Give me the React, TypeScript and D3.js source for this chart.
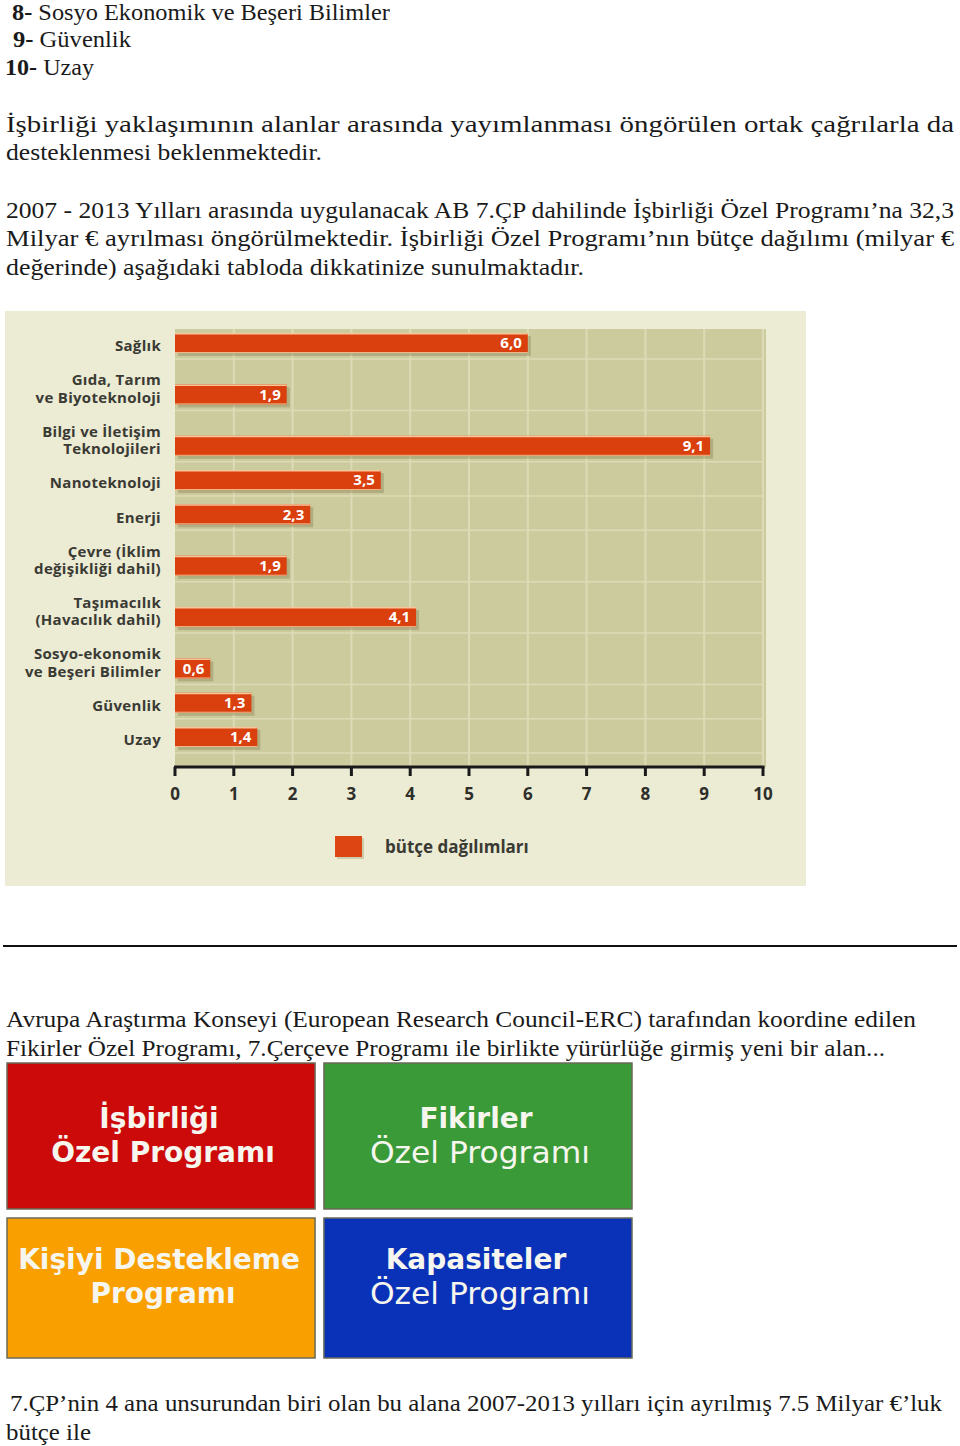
import React from "react";
import * as d3 from "d3";

// ---- chart data ----
const categories: string[][] = [
  ["Sağlık"],
  ["Gıda, Tarım", "ve Biyoteknoloji"],
  ["Bilgi ve İletişim", "Teknolojileri"],
  ["Nanoteknoloji"],
  ["Enerji"],
  ["Çevre (İklim", "değişikliği dahil)"],
  ["Taşımacılık", "(Havacılık dahil)"],
  ["Sosyo-ekonomik", "ve Beşeri Bilimler"],
  ["Güvenlik"],
  ["Uzay"],
];
const budgetValues: number[] = [6.0, 1.9, 9.1, 3.5, 2.3, 1.9, 4.1, 0.6, 1.3, 1.4];
const tickValues: number[] = [0, 1, 2, 3, 4, 5, 6, 7, 8, 9, 10];
const legendLabel = "bütçe dağılımları";

// ---- document text ----
const listLines = [
  { num: "8-", text: " Sosyo Ekonomik ve Beşeri Bilimler" },
  { num: "9-", text: " Güvenlik" },
  { num: "10-", text: " Uzay" },
];
const para1 = [
  "İşbirliği yaklaşımının alanlar arasında yayımlanması öngörülen ortak çağrılarla da",
  "desteklenmesi beklenmektedir.",
];
const para2 = [
  "2007 - 2013 Yılları arasında uygulanacak AB 7.ÇP dahilinde İşbirliği Özel Programı’na 32,3",
  "Milyar € ayrılması öngörülmektedir. İşbirliği Özel Programı’nın bütçe dağılımı (milyar €",
  "değerinde) aşağıdaki tabloda dikkatinize sunulmaktadır.",
];
const para3 = [
  "Avrupa Araştırma Konseyi (European Research Council-ERC) tarafından koordine edilen",
  "Fikirler Özel Programı, 7.Çerçeve Programı ile birlikte yürürlüğe girmiş yeni bir alan...",
];
const para4 = [
  "7.ÇP’nin 4 ana unsurundan biri olan bu alana 2007-2013 yılları için ayrılmış 7.5 Milyar €’luk",
  "bütçe ile",
];
const programTitles: string[][] = [
  ["İşbirliği", "Özel Programı"],
  ["Fikirler", "Özel Programı"],
  ["Kişiyi Destekleme", "Programı"],
  ["Kapasiteler", "Özel Programı"],
];

const W = 960;
const H = 1446;
const SERIF = "'Liberation Serif', 'Times New Roman', serif";
const SANS = "'Open Sans', 'DejaVu Sans', sans-serif";

function Line({ x, y, w, children, size = 24, weight = 400 }: any) {
  return (
    <text
      x={x}
      y={y}
      fontFamily={SERIF}
      fontSize={size}
      fontWeight={weight}
      fill="#1a1a1a"
      textLength={w}
      lengthAdjust="spacingAndGlyphs"
    >
      {children}
    </text>
  );
}

export default function App() {
  // chart scales
  const x = d3.scaleLinear().domain([0, 10]).range([175, 763]);
  const units = categories.map((c) => (c.length > 1 ? 3 : 2));
  const cum: number[] = [];
  units.forEach((u, i) => cum.push(i === 0 ? 0 : cum[i - 1] + u));
  const total = cum[cum.length - 1];
  const y = d3.scaleLinear().domain([0, total]).range([343, 737]);
  const barH = 20;
  const fmt = (v: number) => d3.format(".1f")(v).replace(".", ",");

  const axisY = 767;

  const boxColors = ["#cc0a0a", "#3a9a38", "#f9a000", "#0a32b8"];
  const boxX = d3.scaleBand<number>().domain([0, 1]).range([7, 632]).paddingInner(0.028);
  const boxRows = [1063, 1218];
  const boxHeights = [146, 140];

  return (
    <svg
      width={W}
      height={H}
      viewBox={`0 0 ${W} ${H}`}
      style={{ position: "absolute", left: 0, top: 0, background: "#fff" }}
    >
      <rect x={0} y={0} width={W} height={H} fill="#ffffff" />

      {/* numbered list */}
      {listLines.map((l, i) => {
        const xs = [12, 13, 5][i];
        const ws = [378, 118, 89][i];
        return (
          <text
            key={i}
            x={xs}
            y={[20, 47, 75][i]}
            fontFamily={SERIF}
            fontSize={23}
            fill="#1a1a1a"
            textLength={ws}
            lengthAdjust="spacingAndGlyphs"
          >
            <tspan fontWeight={700}>{l.num}</tspan>
            <tspan>{l.text}</tspan>
          </text>
        );
      })}

      {/* paragraph 1 */}
      <Line x={6} y={132} w={948}>{para1[0]}</Line>
      <Line x={6} y={160} w={316}>{para1[1]}</Line>

      {/* paragraph 2 */}
      <Line x={6} y={218} w={948}>{para2[0]}</Line>
      <Line x={6} y={246} w={948}>{para2[1]}</Line>
      <Line x={6} y={275} w={578}>{para2[2]}</Line>

      {/* chart panel */}
      <g>
        <rect x={5} y={311} width={801} height={575} fill="#ecebd3" />
        <rect x={x(0)} y={329} width={x(10) - x(0) + 3} height={axisY - 329} fill="#cccb9e" />
        {/* vertical gridlines */}
        {tickValues.slice(1).map((t) => (
          <line
            key={"vg" + t}
            x1={x(t)}
            x2={x(t)}
            y1={329}
            y2={axisY}
            stroke="#dcdbb6"
            strokeWidth={2}
          />
        ))}
        {/* horizontal gridlines */}
        {categories.map((_, i) => (
          <line
            key={"hg" + i}
            x1={x(0)}
            x2={x(10)}
            y1={y(cum[i]) + barH / 2 + 6}
            y2={y(cum[i]) + barH / 2 + 6}
            stroke="#dcdbb6"
            strokeWidth={1.5}
          />
        ))}
        {/* bars */}
        {budgetValues.map((v, i) => {
          const cy = y(cum[i]);
          const w = x(v) - x(0);
          return (
            <g key={"b" + i}>
              <rect x={x(0) + 3} y={cy - barH / 2 + 3} width={w} height={barH} fill="#8e8a5e" opacity={0.45} />
              <rect x={x(0)} y={cy - barH / 2} width={w} height={barH} fill="#d9400e" />
              <line x1={x(0)} x2={x(0) + w} y1={cy - barH / 2 + 0.75} y2={cy - barH / 2 + 0.75} stroke="#f6c59a" strokeWidth={1.5} />
              <line x1={x(0)} x2={x(0) + w} y1={cy + barH / 2 - 0.5} y2={cy + barH / 2 - 0.5} stroke="#f2b58a" strokeWidth={1} />
              <text
                x={x(v) - 6}
                y={cy}
                dy="0.36em"
                textAnchor="end"
                fontFamily={SANS}
                fontWeight={700}
                fontSize={15}
                fill="#ffffff"
              >
                {fmt(v)}
              </text>
            </g>
          );
        })}
        {/* category labels */}
        {categories.map((lines, i) => {
          const cy = y(cum[i]) + 3;
          return (
            <text
              key={"c" + i}
              textAnchor="end"
              fontFamily={SANS}
              fontWeight={700}
              fontSize={15}
              letterSpacing={0.3}
              fill="#3a3a34"
            >
              {lines.map((ln, j) => (
                <tspan key={j} x={161} y={cy - (lines.length - 1 - j) * 17.5} dy="0.36em">
                  {ln}
                </tspan>
              ))}
            </text>
          );
        })}
        {/* axis */}
        <line x1={x(0) - 1} x2={x(10) + 1.5} y1={axisY} y2={axisY} stroke="#1a1a1a" strokeWidth={3} />
        {tickValues.map((t) => (
          <g key={"t" + t}>
            <line x1={x(t)} x2={x(t)} y1={axisY} y2={axisY + 9} stroke="#1a1a1a" strokeWidth={3} />
            <text
              x={x(t)}
              y={794}
              dy="0.36em"
              textAnchor="middle"
              fontFamily={SANS}
              fontWeight={700}
              fontSize={17}
              fill="#2e2e2a"
            >
              {t}
            </text>
          </g>
        ))}
        {/* legend */}
        <rect x={337} y={838} width={27} height={21} fill="#a39e70" opacity={0.4} />
        <rect x={335} y={836} width={27} height={21} fill="#dd4612" />
        <text x={385} y={847} dy="0.36em" fontFamily={SANS} fontWeight={700} fontSize={17} fill="#3a3a34">
          {legendLabel}
        </text>
      </g>

      {/* separator */}
      <line x1={3} x2={957} y1={946} y2={946} stroke="#111" strokeWidth={2} />

      {/* paragraph 3 */}
      <Line x={6} y={1027} w={910}>{para3[0]}</Line>
      <Line x={6} y={1056} w={879}>{para3[1]}</Line>

      {/* program boxes */}
      {programTitles.map((lines, i) => {
        const col = i % 2;
        const row = Math.floor(i / 2);
        const bx = boxX(col)!;
        const bw = boxX.bandwidth();
        const by = boxRows[row];
        const bh = boxHeights[row];
        const regularSecond = i === 1 || i === 3;
        const lineYs = row === 0 ? [1118, 1152] : [1259, 1293];
        return (
          <g key={"box" + i}>
            <rect x={bx} y={by} width={bw} height={bh} fill={boxColors[i]} stroke="#6a6a5a" strokeWidth={1.5} />
            {lines.map((ln, j) => {
              const regular = j === 1 && regularSecond;
              return (
                <text
                  key={j}
                  x={bx + bw / 2 + (j === 0 ? -2 : 2)}
                  y={lineYs[j]}
                  dy="0.36em"
                  textAnchor="middle"
                  fontFamily="'DejaVu Sans', Verdana, sans-serif"
                  fontWeight={regular ? 400 : 700}
                  fontSize={regular ? 30 : 28}
                  fill="#f6f6ee"
                  {...(regular ? { textLength: 220, lengthAdjust: "spacingAndGlyphs" } : {})}
                >
                  {ln}
                </text>
              );
            })}
          </g>
        );
      })}

      {/* paragraph 4 */}
      <Line x={10} y={1411} w={932}>{para4[0]}</Line>
      <Line x={6} y={1440} w={85}>{para4[1]}</Line>
    </svg>
  );
}
